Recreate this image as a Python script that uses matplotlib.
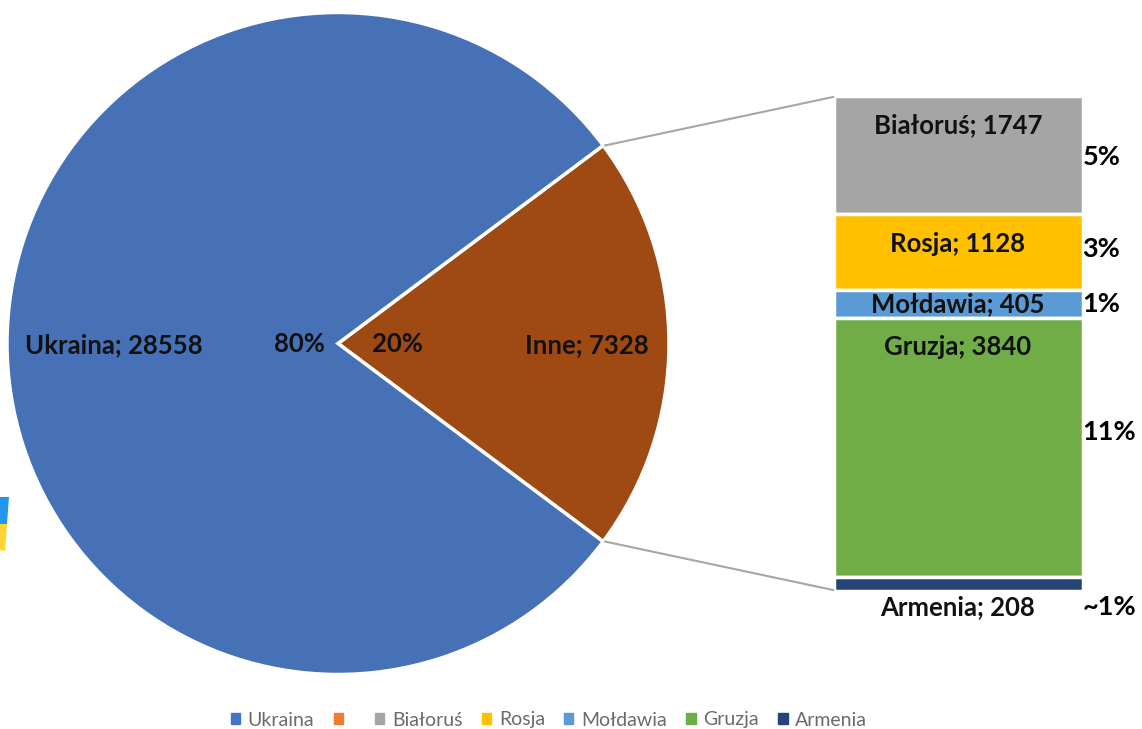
import math
import matplotlib
matplotlib.use("Agg")
import matplotlib.pyplot as plt
from matplotlib.patches import Patch, Polygon

plt.rcParams['font.family'] = ['Lato', 'DejaVu Sans']

W, H = 1142, 729

# main pie
pie_names = ['Inne', 'Ukraina']
pie_values = [7328, 28558]
pie_pct = ['20%', '80%']
pie_colors = ['#9E4A12', '#4671B6']

# breakdown of "Inne", top to bottom
bar_names = ['Białoruś', 'Rosja', 'Mołdawia', 'Gruzja', 'Armenia']
bar_values = [1747, 1128, 405, 3840, 208]
bar_pct = ['5%', '3%', '1%', '11%', '~1%']
bar_colors = ['#A5A5A5', '#FFC000', '#5B9BD5', '#70AD47', '#264478']

legend_names = ['Ukraina', ' ', 'Białoruś', 'Rosja', 'Mołdawia', 'Gruzja', 'Armenia']
legend_colors = ['#4472C4', '#ED7D31', '#A5A5A5', '#FFC000', '#5B9BD5', '#70AD47', '#264478']


def py(y):
    # picture y (from the top) to axes y
    return H - y


fig = plt.figure(figsize=(W / 100, H / 100), dpi=100)
ax = fig.add_axes([0, 0, 1, 1])

cx, cy, r = 338, 343.5, 331
half = 360 * pie_values[0] / sum(pie_values) / 2
ax.pie(pie_values, colors=pie_colors, startangle=-half, center=(cx, py(cy)), radius=r,
       wedgeprops=dict(edgecolor='white', linewidth=2.5), frame=True)
ax.set_xlim(0, W)
ax.set_ylim(0, H)
ax.set_aspect('equal')
ax.axis('off')

# stacked bar
bar_left, bar_right = 834, 1083
bar_top, bar_bottom = 96, 591
scale = (bar_bottom - bar_top) / sum(bar_values)
y = bar_top
for name, val, col in zip(bar_names, bar_values, bar_colors):
    h = val * scale
    ax.bar(bar_left, h, width=bar_right - bar_left, bottom=py(y + h), align='edge',
           color=col, edgecolor='white', linewidth=2.5)
    y += h

# connector lines
a = math.radians(half)
ex, ey = r * math.cos(a), r * math.sin(a)
ax.plot([cx + ex + 2, bar_left - 1], [py(cy) + ey, py(bar_top + 1)], color='#A6A6A6', lw=1.5)
ax.plot([cx + ex + 2, bar_left - 1], [py(cy) - ey, py(bar_bottom - 1)], color='#A6A6A6', lw=1.5)

# labels
fs = 18.5
lab = dict(fontsize=fs, fontweight='bold', color='#111111', va='center')
ax.text(114, py(345), f'{pie_names[1]}; {pie_values[1]}', ha='center', **lab)
ax.text(299, py(344), pie_pct[1], ha='center', **lab)
ax.text(397, py(344), pie_pct[0], ha='center', **lab)
ax.text(587, py(345), f'{pie_names[0]}; {pie_values[0]}', ha='center', **lab)

bar_label_y = [125, 244, 304, 347, 607]
pct_y = [157, 249, 304, 432, 607]
pct_x = [1083, 1082, 1082, 1082, 1083]
for name, val, ly in zip(bar_names, bar_values, bar_label_y):
    ax.text(958, py(ly), f'{name}; {val}', ha='center', **lab)
for p, ly, lx in zip(bar_pct, pct_y, pct_x):
    ax.text(lx, py(ly), p, ha='left', fontsize=19.5, fontweight='bold', color='black', va='center')

# flag fragment on the left edge
ax.add_patch(Polygon([(0, py(497)), (9, py(497)), (7, py(524)), (0, py(524))], color='#2196F3', lw=0))
ax.add_patch(Polygon([(0, py(524)), (7, py(524)), (5, py(551)), (0, py(550))], color='#FDD52F', lw=0))

handles = [Patch(color=c) for c in legend_colors]
ax.legend(handles, legend_names, ncol=7, loc='center', bbox_to_anchor=(549 / W, py(720) / H),
          frameon=False, fontsize=14, labelcolor='#6b6b6b', handlelength=0.47, handleheight=0.47,
          handletextpad=0.4, columnspacing=1.0, borderpad=0, borderaxespad=0)

fig.savefig('out.png', dpi=100)
